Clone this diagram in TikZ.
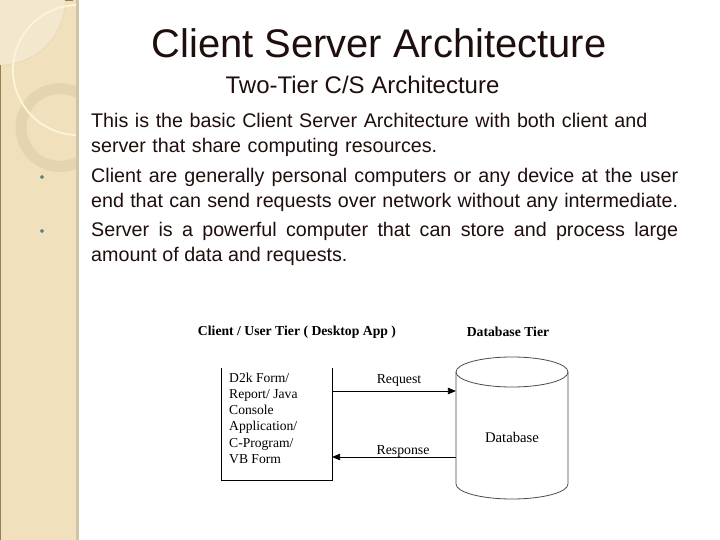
\documentclass[tikz,border=0pt]{standalone}
\usepackage{fontspec}
\setmainfont{Liberation Serif}
\newfontfamily\slidefont{Liberation Sans}
\usetikzlibrary{shapes,arrows,positioning}
\definecolor{sidetan}{HTML}{F0E0BC}
\definecolor{sidepale}{HTML}{F3E8CD}
\definecolor{sidestripe}{HTML}{CFC4A4}
\definecolor{sideedge}{HTML}{8F8058}
\definecolor{ringtan}{HTML}{E4D5B0}
\definecolor{arccream}{HTML}{FBF4D9}
\definecolor{bullettan}{HTML}{5E8478}
\definecolor{inkdark}{HTML}{1E0F0C}
\tikzstyle{slidetitle} = [font=\slidefont\fontsize{39.9}{44}\selectfont, text=inkdark, inner sep=0pt]
\tikzstyle{subtitle} = [font=\slidefont\fontsize{24}{28}\selectfont, text=inkdark, inner sep=0pt]
\tikzstyle{bodytext} = [font=\slidefont\fontsize{19.7}{24.5}\selectfont, text=inkdark, inner sep=0pt, anchor=north west, text width=587pt]
\tikzstyle{tierlabel} = [font=\bfseries\fontsize{13.7}{16}\selectfont, inner sep=0pt]
\tikzstyle{formtext} = [font=\fontsize{13.6}{16.1}\selectfont, inner sep=0pt, align=left, anchor=north west]
\tikzstyle{flowlabel} = [font=\fontsize{13.8}{16}\selectfont, inner sep=0pt]
\tikzstyle{flow} = [draw, thick, -triangle 45]
\tikzstyle{bulletdot} = [circle, fill=bullettan, draw=sidepale, line width=1pt, inner sep=0pt, minimum size=5pt]
\begin{document}
\begin{tikzpicture}[x=1pt,y=-1pt]
	\useasboundingbox (0,0) rectangle (720,540);
	\fill[white] (0,0) rectangle (720,540);
	% side band
	\begin{scope}
		\clip (0,0) rectangle (76,540);
		\fill[sidetan] (0,0) rectangle (76,540);
		\fill[sidepale, draw=ringtan] (0,0) circle (65);
		\draw[ringtan, line width=11pt] (60,127.5) circle (39);
		\draw[arccream, line width=2pt] (78,70) circle (65);
	\end{scope}
	\fill[sidestripe] (76,0) rectangle (79,540);
	\fill[sideedge] (0,65) rectangle (1,540);
	\fill[sideedge] (65,0) rectangle (73,1);
	\node[bulletdot] (dotclient) at (42,177) {};
	\node[bulletdot] (dotserver) at (42,231) {};
	% headings
	\node[slidetitle] (title) at (379,43) {Client Server Architecture};
	\node[subtitle] (tier) at (362.5,85) {Two-Tier C/S Architecture};
	\node[bodytext, align=left] (basic) at (91,113.5) {This is the basic Client Server Architecture with both client and\\server that share computing resources.};
	\node[bodytext, align=justify] (client) at (91,168.5) {Client are generally personal computers or any device at the user\linebreak end that can send requests over network without any intermediate.\linebreak};
	\node[bodytext, align=justify] (server) at (91,222.5) {Server is a powerful computer that can store and process large\linebreak amount of data and requests.};
	% two tier drawing
	\node[tierlabel] (clienttier) at (297,332) {Client / User Tier ( Desktop App )};
	\node[tierlabel] (dbtier) at (508,332) {Database Tier};
	\node[minimum width=111pt, minimum height=112pt, inner sep=0pt] (form) at (276.5,424) {};
	\draw[semithick] (form.north west) -- (form.south west) -- (form.south east) -- (form.north east);
	\node[formtext] (formtxt) at (229,373) {D2k Form/\\Report/ Java\\Console\\Application/\\C-Program/\\VB Form};
	\node[minimum width=112pt, minimum height=142pt, inner sep=0pt] (db) at (512,428) {};
	\draw[black!70, thick] (512,372) ellipse (56pt and 15pt);
	\draw[black!70, thick] (456,372) -- (456,484) arc[start angle=180, end angle=360, x radius=56pt, y radius=15pt] -- (568,372);
	\node[flowlabel, font=\fontsize{14.7}{16}\selectfont] (dbtxt) at (512,437) {Database};
	\coordinate (reqy) at (332,391);
	\coordinate (respy) at (332,457);
	\draw[flow] (form.east |- reqy) -- (db.west |- reqy);
	\draw[flow] (db.west |- respy) -- (form.east |- respy);
	\node[flowlabel] (reqtxt) at (399,380) {Request};
	\node[flowlabel] (resptxt) at (403,451) {Response};
\end{tikzpicture}
\end{document}
